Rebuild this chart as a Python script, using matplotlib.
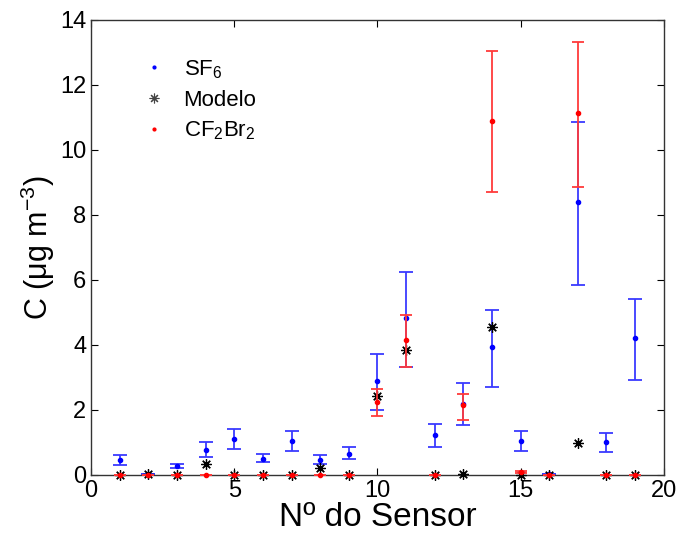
import matplotlib
matplotlib.use('Agg')
import matplotlib.pyplot as plt
from matplotlib.lines import Line2D
import numpy as np

plt.rcParams['font.family'] = ['Liberation Sans', 'DejaVu Sans']
plt.rcParams['mathtext.default'] = 'regular'

# sensor numbers
sensores = [1, 2, 3, 4, 5, 6, 7, 8, 9, 10, 11, 12, 13, 14, 15, 16, 17, 18, 19]

# SF6 measured values with lower / upper error bar ends
sf6 = [0.45, 0.03, 0.28, 0.78, 1.10, 0.50, 1.05, 0.47, 0.65, 2.88, 4.84, 1.22, 2.18, 3.93, 1.05, 0.02, 8.39, 1.00, 4.20]
sf6_low = [0.30, 0.03, 0.20, 0.55, 0.80, 0.40, 0.75, 0.35, 0.50, 2.00, 3.33, 0.85, 1.54, 2.72, 0.75, 0.02, 5.85, 0.70, 2.93]
sf6_high = [0.60, 0.03, 0.35, 1.00, 1.40, 0.65, 1.35, 0.60, 0.85, 3.72, 6.25, 1.58, 2.82, 5.06, 1.35, 0.02, 10.85, 1.28, 5.42]

# model
modelo = [0.0, 0.02, 0.0, 0.35, 0.0, 0.0, 0.0, 0.20, 0.0, 2.43, 3.84, 0.0, 0.02, 4.55, 0.0, 0.0, 0.97, 0.0, 0.0]

# CF2Br2 measured values with error bar ends
cf2br2 = [0.0, 0.0, 0.0, 0.0, 0.0, 0.0, 0.0, 0.0, 0.0, 2.24, 4.14, 0.0, 2.14, 10.90, 0.10, 0.0, 11.12, 0.0, 0.0]
cf2br2_low = [0.0, 0.0, 0.0, 0.0, 0.0, 0.0, 0.0, 0.0, 0.0, 1.80, 3.31, 0.0, 1.68, 8.69, 0.07, 0.0, 8.87, 0.0, 0.0]
cf2br2_high = [0.0, 0.0, 0.0, 0.0, 0.0, 0.0, 0.0, 0.0, 0.0, 2.66, 4.92, 0.0, 2.50, 13.05, 0.13, 0.0, 13.33, 0.0, 0.0]

x = np.array(sensores)
sf6 = np.array(sf6)
cf = np.array(cf2br2)
sf6_err = [sf6 - np.array(sf6_low), np.array(sf6_high) - sf6]
cf_err = [cf - np.array(cf2br2_low), np.array(cf2br2_high) - cf]

fig = plt.figure(figsize=(6.8, 5.37), dpi=100)
ax = fig.add_axes([0.134, 0.1155, 0.842, 0.8475])

eb1 = ax.errorbar(x, sf6, yerr=sf6_err, fmt='.', color='blue', ecolor='#3a3aff',
                  markersize=6, elinewidth=1.3, capsize=5, capthick=1.3, zorder=2)
ax.plot(x, modelo, linestyle='none', marker=(8, 2, 0), color='black',
        markersize=7.5, markeredgewidth=0.9, clip_on=False, zorder=3)
eb2 = ax.errorbar(x, cf, yerr=cf_err, fmt='.', color='red', ecolor='#ff3a3a',
                  markersize=6, elinewidth=1.3, capsize=4, capthick=1.3, zorder=4)
for eb in (eb1, eb2):
    for art in eb.get_children():
        art.set_clip_on(False)

# legend shows only the markers
handles = [
    Line2D([], [], linestyle='none', marker='.', color='blue', markersize=4),
    Line2D([], [], linestyle='none', marker=(8, 2, 0), color='#444444', markersize=7, markeredgewidth=0.8),
    Line2D([], [], linestyle='none', marker='.', color='red', markersize=4),
]
labels = ['SF$_6$', 'Modelo', 'CF$_2$Br$_2$']
ax.legend(handles, labels, loc='upper left', bbox_to_anchor=(0.045, 0.96), frameon=False,
          fontsize=16, handletextpad=0.6, labelspacing=0.4, handlelength=1.5)

ax.set_xlim(0, 20)
ax.set_ylim(0, 14)
ax.set_xticks([0, 5, 10, 15, 20])
ax.set_yticks(np.arange(0, 15, 2))
ax.tick_params(direction='in', top=True, right=True, length=5, labelsize=17)
for s in ax.spines.values():
    s.set_linewidth(1.0)
    s.set_color('#333333')

ax.set_xlabel('Nº do Sensor', fontsize=24, labelpad=0)
ax.set_ylabel('C (μg m$^{-3}$)', fontsize=22, labelpad=2)

fig.savefig('out.png', dpi=100)
